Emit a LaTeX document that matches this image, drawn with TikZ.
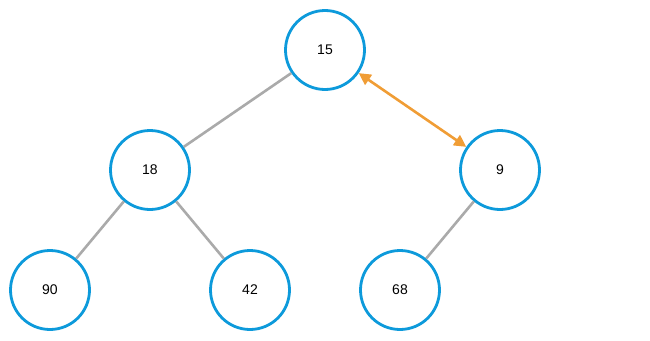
\documentclass[tikz,border=0pt]{standalone}
\usepackage{fontspec}
\setmainfont{Liberation Sans}
\usetikzlibrary{arrows.meta}
\definecolor{nodeblue}{HTML}{0D9ADB}
\definecolor{edgegray}{HTML}{AAAAAA}
\definecolor{swaporange}{HTML}{F09D35}
\begin{document}
\begin{tikzpicture}[x=1pt,y=-1pt,
  heapnode/.style={circle,draw=nodeblue,line width=2.8pt,fill=white,minimum size=79pt,inner sep=0pt,font=\fontsize{14}{16}\selectfont},
  edge/.style={draw=edgegray,line width=2.6pt},
  swap/.style={draw=swaporange,line width=2.6pt,{Triangle[length=12pt,width=12pt]}-{Triangle[length=12pt,width=12pt]}}]
\useasboundingbox (0,0) rectangle (650,340);
\node[heapnode] (n15) at (325,50) {15};
\node[heapnode] (n18) at (150,170) {18};
\node[heapnode] (n9) at (500,170) {9};
\node[heapnode] (n90) at (50,290) {90};
\node[heapnode] (n42) at (250,290) {42};
\node[heapnode] (n68) at (400,290) {68};
\draw[edge] (n15) -- (n18);
\draw[edge] (n18) -- (n90);
\draw[edge] (n18) -- (n42);
\draw[edge] (n9) -- (n68);
\draw[swap] (n15) -- (n9);
\end{tikzpicture}
\end{document}
